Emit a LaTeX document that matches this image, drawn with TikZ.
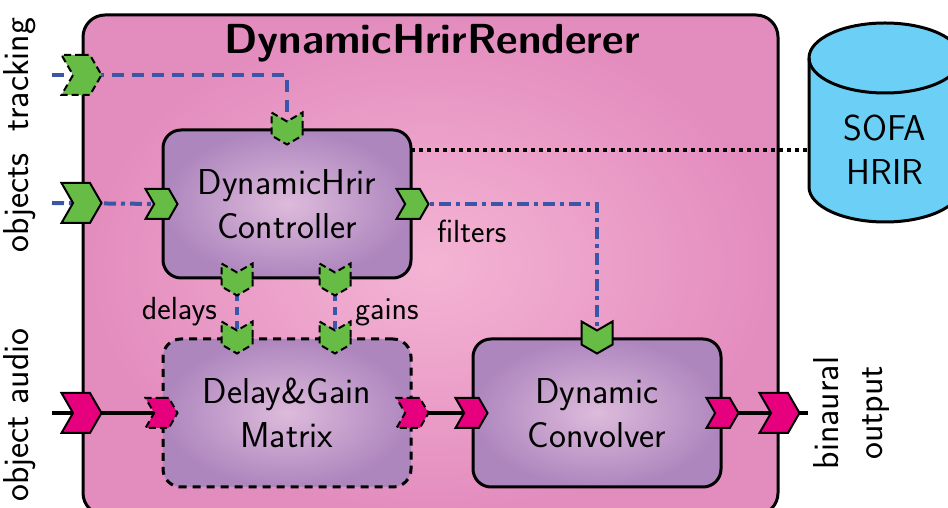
\documentclass[tikz,border=0pt]{standalone}
\usetikzlibrary{shapes.symbols,backgrounds}

\definecolor{rendererout}{HTML}{E38CBE}
\definecolor{rendererin}{HTML}{F4B4D4}
\definecolor{blockout}{HTML}{AE86BE}
\definecolor{blockin}{HTML}{DDBBDB}
\definecolor{portgreen}{HTML}{67BC45}
\definecolor{portmagenta}{HTML}{E6007E}
\definecolor{wireblue}{HTML}{3A56A6}
\definecolor{sofablue}{HTML}{6CCFF6}

\begin{document}
\begin{tikzpicture}[x=0.5pt,y=0.5pt,font=\sffamily\fontsize{18}{22}\selectfont]
\tikzset{block/.style = {draw, line width=1.5pt, rounded corners=9pt, shading=radial, inner color=blockin, outer color=blockout, minimum width=124pt, minimum height=74pt, align=center}}
\tikzset{port/.style = {shape=signal, draw, line width=1pt, signal pointer angle=120, inner sep=0pt, minimum width=16pt, minimum height=15pt}}
\tikzset{inport/.style = {port, signal from=west, signal to=east}}
\tikzset{downport/.style = {inport, rotate=-90, minimum width=16pt, minimum height=15.5pt}}
\tikzset{bigport/.style = {minimum width=20pt, minimum height=20pt}}
\tikzset{portdash/.style = {dash pattern=on 3.5pt off 2pt}}
\tikzset{ctrlwire/.style = {draw=wireblue, line width=2pt}}
\tikzset{dashwire/.style = {ctrlwire, dash pattern=on 6pt off 4pt}}
\tikzset{dotwire/.style = {ctrlwire, dash pattern=on 6pt off 2.5pt on 2pt off 2.5pt}}
\tikzset{audiowire/.style = {draw=black, line width=2pt}}
\tikzset{smalllabel/.style = {font=\sffamily\fontsize{16}{19}\selectfont}}
\useasboundingbox (0,0) rectangle (948,508);

% free ends of the wires
\coordinate (trackin) at (52,433);
\coordinate (objin) at (52,305);
\coordinate (audioin) at (52,95);
\coordinate (audioout) at (808,95);
\coordinate (hrirlink) at (411,358);
\coordinate (sofaside) at (809,358);

% renderer
\begin{scope}[on background layer]
\node[draw, line width=1.5pt, rounded corners=11pt, shading=radial, inner color=rendererin, outer color=rendererout, minimum width=347.5pt, minimum height=250pt] (renderer) at (430.5,243) {};
\end{scope}
\node[font=\sffamily\bfseries\fontsize{21}{25}\selectfont] (title) at (432,465) {DynamicHrirRenderer};

% blocks
\node[block] (ctrl) at (287,304) {DynamicHrir\\Controller};
\node[block, dashed, dash pattern=on 4pt off 3pt] (mtx) at (287,95) {Delay\&Gain\\Matrix};
\node[block] (conv) at (597,95) {Dynamic\\Convolver};

% database
\filldraw[fill=sofablue, line width=1.5pt] (809,450) -- (809,321) arc[start angle=180, end angle=360, x radius=76, y radius=35] -- (961,450) arc[start angle=0, end angle=180, x radius=76, y radius=35] -- cycle;
\draw[line width=1.5pt] (809,450) arc[start angle=180, end angle=360, x radius=76, y radius=35];
\node[align=center] (sofa) at (885,358) {SOFA\\HRIR};

% ports
\node[inport, bigport, fill=portgreen, portdash] (trackport) at (renderer.west |- trackin) {};
\node[inport, bigport, fill=portgreen] (objport) at (renderer.west |- objin) {};
\node[inport, bigport, fill=portmagenta] (audioport) at (renderer.west |- audioin) {};
\node[inport, bigport, fill=portmagenta] (outport) at (renderer.east |- audioout) {};
\node[downport, fill=portgreen, portdash] (ctrltop) at (ctrl.north) {};
\node[inport, fill=portgreen] (ctrlobj) at (ctrl.west) {};
\node[inport, fill=portgreen] (ctrlfilt) at (ctrl.east) {};
\node[downport, fill=portgreen, portdash] (ctrldel) at ([xshift=-25pt]ctrl.south) {};
\node[downport, fill=portgreen, portdash] (ctrlgain) at ([xshift=24pt]ctrl.south) {};
\node[downport, fill=portgreen, portdash] (mtxdel) at ([xshift=-25pt]mtx.north) {};
\node[downport, fill=portgreen, portdash] (mtxgain) at ([xshift=24pt]mtx.north) {};
\node[downport, fill=portgreen] (convtop) at (conv.north) {};
\node[inport, fill=portmagenta, portdash] (mtxin) at (mtx.west) {};
\node[inport, fill=portmagenta, portdash] (mtxout) at (mtx.east) {};
\node[inport, fill=portmagenta] (convin) at (conv.west) {};
\node[inport, fill=portmagenta] (convout) at (conv.east) {};

% wires
\begin{scope}[on background layer]
\draw[dashwire] (trackin) -| (ctrltop.center);
\draw[dotwire] (objin) -- (ctrlobj.center);
\draw[dotwire] (ctrlfilt.center) -| (convtop.center);
\draw[dashwire, dash pattern=on 4pt off 3pt] (ctrldel.center) -- (mtxdel.center);
\draw[dashwire, dash pattern=on 4pt off 3pt] (ctrlgain.center) -- (mtxgain.center);
\draw[audiowire] (audioin) -- (mtxin.center);
\draw[audiowire] (mtxout.center) -- (convin.center);
\draw[audiowire] (convout.center) -- (audioout);
\draw[line width=2pt, dash pattern=on 2pt off 2pt] (hrirlink) -- (sofaside);
\end{scope}

% labels
\node[rotate=90] (tracklabel) at (20,433) {tracking};
\node[rotate=90] (objlabel) at (20,305) {objects};
\node[rotate=90] (audiolabel) at (20,93) {object audio};
\node[rotate=90, align=center] (outlabel) at (852,95) {binaural\\output};
\node[smalllabel, anchor=east] (delaylabel) at (224,196) {delays};
\node[smalllabel, anchor=west] (gainlabel) at (348,196) {gains};
\node[smalllabel, anchor=west] (filterlabel) at (430,277) {filters};
\end{tikzpicture}
\end{document}
